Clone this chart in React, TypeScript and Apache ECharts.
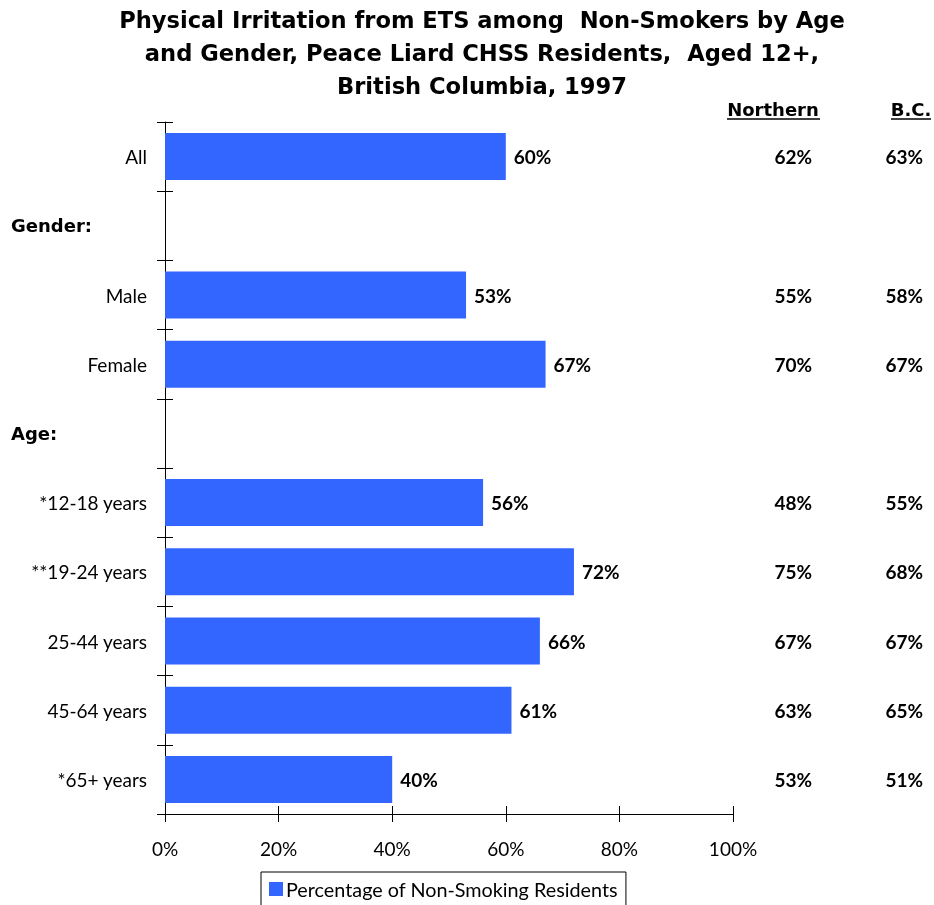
import React, { useEffect, useRef } from "react";
import * as echarts from "echarts";

const categories = [
  "All",
  "Gender:",
  "Male",
  "Female",
  "Age:",
  "*12-18 years",
  "**19-24 years",
  "25-44 years",
  "45-64 years",
  "*65+ years",
];
const headerRows = ["Gender:", "Age:"];
const peaceLiard: (number | null)[] = [60, null, 53, 67, null, 56, 72, 66, 61, 40];
const northern: (number | null)[] = [62, null, 55, 70, null, 48, 75, 67, 63, 53];
const bcValues: (number | null)[] = [63, null, 58, 67, null, 55, 68, 67, 65, 51];
const xTicks = [0, 20, 40, 60, 80, 100];
const columnHeaders = ["Northern", "B.C."];
const seriesName = "Percentage of Non-Smoking Residents";
const titleText =
  "Physical Irritation from ETS among  Non-Smokers by Age\nand Gender, Peace Liard CHSS Residents,  Aged 12+,\nBritish Columbia, 1997";

const FONT = "Lato, 'Open Sans', sans-serif";
const TITLE_FONT = "'DejaVu Sans', Verdana, sans-serif";
const BLUE = "#3366FF";
const FS = 19;

export default function App() {
  const ref = useRef<HTMLDivElement>(null);
  useEffect(() => {
    if (!ref.current) return;
    const chart = echarts.init(ref.current, undefined, { renderer: "svg" });
    const rightLabels = categories.map((c, i) =>
      northern[i] == null ? "" : `{a|${northern[i]}%}{b|${bcValues[i]}%}`
    );
    chart.setOption({
      animation: false,
      textStyle: { fontFamily: FONT },
      legend: {
        left: 261,
        top: 872,
        data: [seriesName],
        borderColor: "#000",
        borderWidth: 1,
        padding: [7, 8, 10, 8],
        itemWidth: 14,
        itemHeight: 14,
        itemGap: 4,
        icon: "rect",
        textStyle: { fontFamily: FONT, fontSize: 19.8, color: "#000", padding: [0, 0, 0, -2] },
      },
      grid: {
        left: 165,
        right: 201,
        top: 122,
        bottom: 91,
        outerBoundsMode: "none",
        containLabel: false,
      },
      xAxis: [
        {
          type: "value",
          min: xTicks[0],
          max: xTicks[xTicks.length - 1],
          interval: 20,
          axisLine: { show: true, lineStyle: { color: "#000", width: 1 } },
          axisTick: { show: true, length: 8, lineStyle: { color: "#000" } },
          axisLabel: {
            formatter: "{value}%",
            fontFamily: FONT,
            fontSize: FS,
            color: "#000",
            margin: 25,
          },
          splitLine: { show: false },
        },
        {
          type: "value",
          position: "bottom",
          min: xTicks[0],
          max: xTicks[xTicks.length - 1],
          interval: 20,
          axisLine: { show: false },
          axisTick: { show: true, inside: true, length: 8, lineStyle: { color: "#000" } },
          axisLabel: { show: false },
          splitLine: { show: false },
        },
      ],
      yAxis: [
        {
          type: "category",
          inverse: true,
          data: categories,
          position: "left",
          axisLine: { show: true, lineStyle: { color: "#000", width: 1 } },
          axisTick: { show: true, length: 8, lineStyle: { color: "#000" } },
          axisLabel: {
            margin: 18,
            color: "#000",
            fontFamily: FONT,
            fontSize: FS,
            formatter: (v: string) =>
              headerRows.includes(v) ? `{h|${v}}` : `{n|${v}}`,
            rich: {
              h: {
                width: 136,
                align: "left",
                fontWeight: "bold",
                fontSize: 18,
                fontFamily: TITLE_FONT,
                color: "#000",
              },
              n: { fontSize: FS, fontFamily: FONT, color: "#000" },
            },
          },
          splitLine: { show: false },
        },
        {
          type: "category",
          inverse: true,
          data: categories,
          position: "left",
          axisLine: { show: false },
          axisTick: { show: true, inside: true, length: 8, lineStyle: { color: "#000" } },
          axisLabel: { show: false },
          splitLine: { show: false },
        },
        {
          type: "category",
          inverse: true,
          data: rightLabels,
          position: "right",
          axisLine: { show: false },
          axisTick: { show: false },
          axisLabel: {
            margin: 8,
            formatter: (v: string) => v,
            rich: {
              a: {
                width: 71,
                align: "right",
                fontWeight: "bold",
                fontSize: FS,
                fontFamily: FONT,
                color: "#000",
              },
              b: {
                width: 111,
                align: "right",
                fontWeight: "bold",
                fontSize: FS,
                fontFamily: FONT,
                color: "#000",
              },
            },
          },
          splitLine: { show: false },
        },
      ],
      graphic: [
        {
          type: "text",
          x: 482,
          y: 3,
          style: {
            text: titleText,
            fontFamily: TITLE_FONT,
            fontSize: 22.6,
            fontWeight: "bold",
            lineHeight: 33,
            fill: "#000",
            align: "center",
            verticalAlign: "top",
          },
        },
        {
          type: "text",
          x: 773,
          y: 109,
          style: {
            text: columnHeaders[0],
            fontFamily: TITLE_FONT,
            fontSize: 18,
            fontWeight: "bold",
            fill: "#000",
            align: "center",
            verticalAlign: "middle",
          },
        },
        {
          type: "line",
          shape: { x1: 727, y1: 119, x2: 820, y2: 119 },
          style: { stroke: "#000", lineWidth: 1.5 },
        },
        {
          type: "text",
          x: 911,
          y: 109,
          style: {
            text: columnHeaders[1],
            fontFamily: TITLE_FONT,
            fontSize: 18,
            fontWeight: "bold",
            fill: "#000",
            align: "center",
            verticalAlign: "middle",
          },
        },
        {
          type: "line",
          shape: { x1: 891, y1: 119, x2: 931, y2: 119 },
          style: { stroke: "#000", lineWidth: 1.5 },
        },
      ],
      series: [
        {
          name: seriesName,
          type: "bar",
          xAxisIndex: 0,
          yAxisIndex: 0,
          data: peaceLiard,
          barWidth: 47,
          itemStyle: { color: BLUE },
          label: {
            show: true,
            position: "right",
            distance: 8,
            formatter: (p: any) => (p.value == null ? "" : `${p.value}%`),
            fontFamily: FONT,
            fontSize: FS,
            fontWeight: "bold",
            color: "#000",
          },
        },
      ],
    });
    return () => chart.dispose();
  }, []);
  return (
    <div
      ref={ref}
      style={{ position: "fixed", left: 0, top: 0, width: 934, height: 905 }}
    />
  );
}
